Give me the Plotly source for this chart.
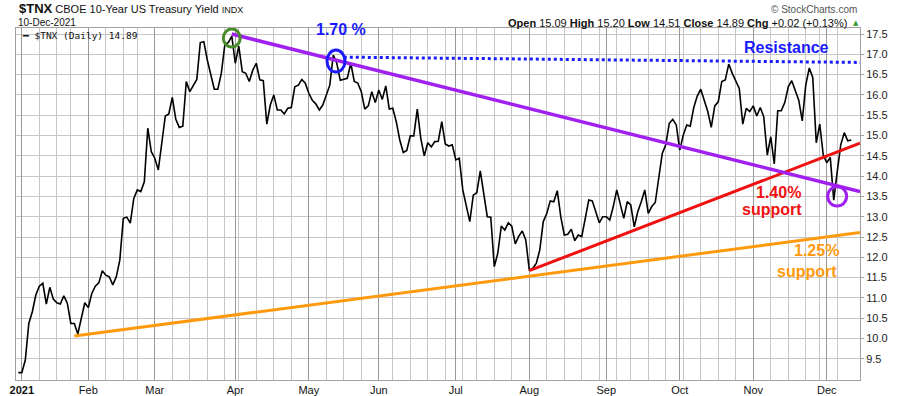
import plotly.graph_objects as go
import pandas as pd

# ---------------- data ----------------
HOLIDAYS = ["2021-01-01", "2021-01-18", "2021-02-15", "2021-04-02", "2021-05-31",
            "2021-07-05", "2021-09-06", "2021-11-25"]
FIRST_DAY = "2020-12-31"
dates = [FIRST_DAY] + [d.strftime("%Y-%m-%d") for d in pd.bdate_range("2021-01-04", "2021-12-10")
                       if d.strftime("%Y-%m-%d") not in HOLIDAYS]

close_dec20 = [9.16]
close_jan = [9.16, 9.47, 10.37, 10.66, 11.07, 11.29, 11.36, 10.85, 11.26, 10.97, 10.88, 10.85,
             11.05, 10.87, 10.37, 10.37, 10.11, 10.50, 10.88]
close_feb = [10.76, 11.11, 11.29, 11.37, 11.67, 11.56, 11.52, 11.32, 11.52, 11.93, 12.96, 12.99,
             12.84, 13.45, 13.66, 13.62, 13.86, 15.18, 14.60]
close_mar = [14.44, 14.15, 14.77, 15.48, 15.53, 15.94, 15.40, 15.20, 15.23, 16.33, 16.08, 16.24,
             16.38, 17.29, 17.31, 16.86, 16.47, 16.14, 16.14, 16.53, 17.23, 17.29, 17.45]
close_apr = [16.78, 17.20, 16.57, 16.53, 16.33, 16.61, 16.78, 16.37, 16.35, 15.28, 15.75, 16.00,
             15.63, 15.63, 15.53, 15.67, 15.69, 16.20, 16.24, 16.38, 16.29]
close_may = [16.04, 15.87, 15.78, 15.63, 15.75, 15.97, 16.24, 16.98, 16.78, 16.36, 16.38, 16.41,
             16.78, 16.33, 16.29, 16.08, 15.65, 15.73, 16.08, 15.81]
close_jun = [16.12, 15.89, 16.22, 15.65, 15.67, 15.34, 14.89, 14.58, 14.63, 14.99, 14.99, 15.65,
             14.93, 14.50, 14.82, 14.72, 14.85, 14.86, 15.34, 14.79, 14.74, 14.77]
close_jul = [14.40, 14.44, 13.66, 13.25, 12.88, 13.53, 13.59, 14.13, 13.58, 13.00, 12.99, 11.77,
             12.10, 12.77, 12.67, 12.85, 12.77, 12.33, 12.52, 12.65, 12.43]
close_aug = [11.69, 11.73, 11.85, 12.18, 12.88, 13.08, 13.39, 13.37, 13.64, 13.00, 12.55, 12.57,
             12.69, 12.41, 12.55, 12.51, 12.96, 13.41, 13.39, 13.12, 12.85, 13.00]
close_sep = [13.00, 12.92, 13.25, 13.66, 13.33, 12.96, 13.37, 13.29, 12.75, 13.12, 13.37, 13.66,
             13.08, 13.25, 13.35, 13.99, 14.56, 14.77, 15.30, 15.40, 15.26]
close_oct = [14.64, 15.01, 15.26, 15.23, 15.69, 15.97, 16.14, 15.87, 15.59, 15.20, 15.73, 15.83,
             16.33, 16.37, 16.76, 16.53, 16.33, 16.16, 15.28, 15.67, 15.59]
close_nov = [15.73, 15.48, 15.69, 15.46, 14.52, 14.97, 14.30, 15.61, 15.61, 15.81, 16.20, 16.35,
             16.10, 15.87, 15.36, 16.24, 16.66, 16.43, 14.82, 15.28, 14.52]
close_dec = [14.33, 14.46, 13.41, 14.11, 14.77, 15.07, 14.87, 14.89]

close = (close_dec20 + close_jan + close_feb + close_mar + close_apr + close_may + close_jun +
         close_jul + close_aug + close_sep + close_oct + close_nov + close_dec)
assert len(close) == len(dates), (len(close), len(dates))

month_labels = ["<b>2021</b>", "Feb", "Mar", "Apr", "May", "Jun", "Jul", "Aug", "Sep", "Oct", "Nov", "Dec"]
y_ticks = [9.5, 10.0, 10.5, 11.0, 11.5, 12.0, 12.5, 13.0, 13.5, 14.0, 14.5, 15.0, 15.5, 16.0, 16.5, 17.0, 17.5]

header_vals = {"Open": "15.09", "High": "15.20", "Low": "14.51", "Close": "14.89", "Chg": "+0.02 (+0.13%)"}

# trend lines: (start date, start value, value at right edge)
purple_line = ("2021-03-31", 17.50, 13.62)
red_line = ("2021-08-02", 11.67, 14.81)
orange_line = ("2021-01-26", 10.06, 12.61)
resistance_line = ("2021-05-17", 16.93, 16.80)

# ---------------- derived positions ----------------
idx = {d: i for i, d in enumerate(dates)}
month_starts = [d for i, d in enumerate(dates) if d.startswith("2021") and (i == 0 or dates[i - 1][:7] != d[:7])]
week_starts = []
for i in range(1, len(dates)):
    a, b = pd.Timestamp(dates[i - 1]), pd.Timestamp(dates[i])
    if b.isocalendar()[1] != a.isocalendar()[1] or dates[i] in month_starts:
        week_starts.append(dates[i])
month_label_of = dict(zip(month_starts, month_labels))
week_text = [month_label_of.get(d, "") for d in week_starts]

X0, X1 = -0.66, 240.5
Y0, Y1 = 8.978, 17.648
L, R, T, B = 16, 860, 28, 380


def px(x):
    return (x - L) / (R - L)


def py(y):
    return (B - y) / (B - T)


fig = go.Figure()
fig.add_trace(go.Scatter(x=dates, y=close, mode="lines", line=dict(color="black", width=1.6),
                         hoverinfo="skip", showlegend=False))
# invisible copy that carries the second (month-grid) category axis
fig.add_trace(go.Scatter(x=dates, y=close, xaxis="x2", mode="lines", line=dict(width=0), opacity=0,
                         hoverinfo="skip", showlegend=False))

shapes = []
for (d0, v0, v1), col, w, dash in [(orange_line, "#ff9a0e", 3, "solid"),
                                   (red_line, "#f01010", 3, "solid"),
                                   (purple_line, "#a020f0", 3.5, "solid"),
                                   (resistance_line, "#1a1aff", 3, "dot")]:
    shapes.append(dict(type="line", xref="x", yref="y", x0=idx[d0], y0=v0, x1=X1, y1=v1,
                       line=dict(color=col, width=w, dash=dash), layer="above"))

# circles anchored at data points
for d, v, (xa, xb, ya, yb), col in [("2021-03-31", 17.45, (-8.5, 8.5, -11, 7), "#4a8c2a"),
                                     ("2021-05-12", 16.98, (-6.3, 11.7, -17, 5), "#1a1aff"),
                                     ("2021-12-03", 13.41, (-6.1, 12.9, -6, 13.4), "#a020f0")]:
    shapes.append(dict(type="circle", xref="x", yref="y", xsizemode="pixel", ysizemode="pixel",
                       xanchor=idx[d], yanchor=v, x0=xa, x1=xb, y0=ya, y1=yb,
                       line=dict(color=col, width=3), layer="above"))

ann = []
BOLD = "Liberation Sans, Arial, sans-serif"
for txt, x, y, col in [("1.765%", 63.5, 17.87, "#4a8c2a"),
                       ("1.70 %", 92.2, 17.61, "#1a1aff"),
                       ("Resistance", 219.5, 17.18, "#1a1aff"),
                       ("1.40%", 217.1, 13.60, "#f01010"),
                       ("support", 215.3, 13.17, "#f01010"),
                       ("1.25%", 228.1, 12.18, "#ff9a0e"),
                       ("support", 225.3, 11.65, "#ff9a0e")]:
    ann.append(dict(text="<b>" + txt + "</b>", x=x, y=y, xref="x", yref="y", showarrow=False,
                    xanchor="center", yanchor="middle", font=dict(family=BOLD, size=16, color=col)))

# header texts
ann.append(dict(text="<span style='font-size:13px'><b>$TNX</b></span> CBOE 10-Year US Treasury Yield "
                     "<span style='font-size:9px'>INDX</span>",
                x=px(16.5), y=py(8.5), xref="paper", yref="paper", showarrow=False,
                xanchor="left", yanchor="middle", font=dict(family=BOLD, size=11, color="#111")))
ann.append(dict(text="10-Dec-2021", x=px(16), y=py(22.7), xref="paper", yref="paper", showarrow=False,
                xanchor="left", yanchor="middle", font=dict(family=BOLD, size=10, color="#111")))
ann.append(dict(text="━ $TNX (Daily) 14.89", x=px(20), y=py(35), xref="paper", yref="paper",
                showarrow=False, xanchor="left", yanchor="middle",
                font=dict(family="DejaVu Sans Mono, monospace", size=9.5, color="#111")))
ann.append(dict(text="© StockCharts.com", x=px(859), y=py(9), xref="paper", yref="paper", showarrow=False,
                xanchor="right", yanchor="middle", font=dict(family=BOLD, size=10, color="#555")))
hdr = " ".join("<b>%s</b> %s" % (k, v) for k, v in header_vals.items())
ann.append(dict(text=hdr, x=px(848.5), y=py(22.5), xref="paper", yref="paper", showarrow=False,
                xanchor="right", yanchor="middle", font=dict(family=BOLD, size=11, color="#111")))
ann.append(dict(text="▲", x=px(855.5), y=py(22.5), xref="paper", yref="paper", showarrow=False,
                xanchor="center", yanchor="middle", font=dict(family="DejaVu Sans", size=7, color="#2e9a2e")))

fig.update_layout(
    width=900, height=396,
    margin=dict(l=L, r=900 - R, t=T, b=396 - B, autoexpand=False),
    paper_bgcolor="white", plot_bgcolor="white",
    showlegend=False,
    font=dict(family=BOLD, color="#111"),
    shapes=shapes, annotations=ann,
    xaxis=dict(type="category", categoryorder="array", categoryarray=dates, range=[X0, X1],
               tickmode="array", tickvals=week_starts, ticktext=week_text,
               showgrid=True, gridcolor="#c6c6c6", gridwidth=1,
               zeroline=False, showline=True, mirror=True, linecolor="#a0a0a0",
               linewidth=1, ticks="", ticklen=0,
               tickfont=dict(family="Liberation Sans Narrow, Arial Narrow, Liberation Sans, sans-serif",
                             size=11, color="#111")),
    xaxis2=dict(type="category", categoryorder="array", categoryarray=dates, range=[X0, X1],
                matches="x", overlaying="x", anchor="y", side="bottom",
                tickmode="array", tickvals=month_starts, showticklabels=False,
                showgrid=True, gridcolor="#999999", gridwidth=1,
                zeroline=False, showline=False, ticks=""),
    yaxis=dict(side="right", range=[Y0, Y1], tickmode="array", tickvals=y_ticks,
               ticktext=["%.1f" % v for v in y_ticks], showgrid=True, gridcolor="#c6c6c6",
               zeroline=False, showline=True, mirror=True, linecolor="#a0a0a0", linewidth=1,
               ticks="outside", ticklen=3, tickcolor="#a0a0a0",
               tickfont=dict(family=BOLD, size=11, color="#222")),
)

fig.write_html("out.html", config={"displayModeBar": False},
               post_script="document.body.style.margin='0px';document.body.style.overflow='hidden';")
